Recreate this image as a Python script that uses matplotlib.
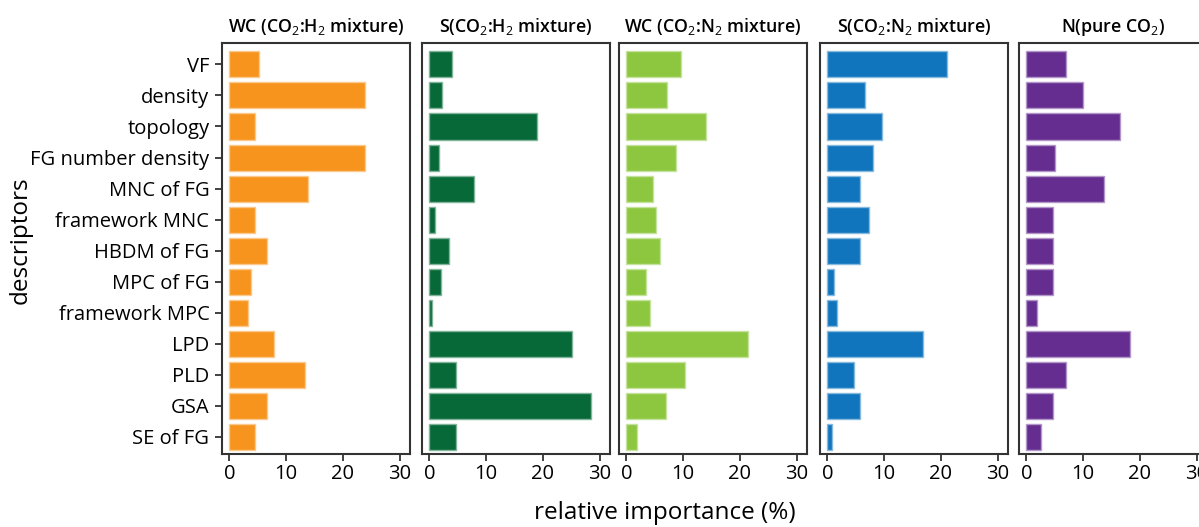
import numpy as np
import matplotlib.pyplot as plt

plt.rcParams['font.family'] = ['Open Sans', 'DejaVu Sans']
plt.rcParams['mathtext.fontset'] = 'custom'
plt.rcParams['mathtext.rm'] = 'Open Sans'
plt.rcParams['mathtext.it'] = 'Open Sans'
plt.rcParams['mathtext.bf'] = 'Open Sans:bold'

# descriptors (top to bottom)
descriptors = ["VF", "density", "topology", "FG number density", "MNC of FG",
               "framework MNC", "HBDM of FG", "MPC of FG", "framework MPC",
               "LPD", "PLD", "GSA", "SE of FG"]

# relative importance (%) per target
wc_h2 = [5.2, 23.9, 4.5, 23.9, 13.9, 4.5, 6.6, 3.8, 3.2, 7.8, 13.3, 6.6, 4.5]
s_h2 = [3.9, 2.3, 19.0, 1.7, 7.8, 1.0, 3.4, 2.1, 0.4, 25.1, 4.6, 28.5, 4.6]
wc_n2 = [9.7, 7.1, 14.1, 8.7, 4.6, 5.2, 6.0, 3.5, 4.1, 21.5, 10.3, 6.9, 1.8]
s_n2 = [21.0, 6.7, 9.6, 8.0, 5.7, 7.4, 5.7, 1.1, 1.7, 16.8, 4.6, 5.7, 0.8]
n_co2 = [6.9, 10.0, 16.5, 5.0, 13.6, 4.7, 4.7, 4.7, 1.8, 18.3, 6.9, 4.7, 2.6]

titles = ["WC (CO$_2$:H$_2$ mixture)", "S(CO$_2$:H$_2$ mixture)",
          "WC (CO$_2$:N$_2$ mixture)", "S(CO$_2$:N$_2$ mixture)",
          "N(pure CO$_2$)"]
series = [wc_h2, s_h2, wc_n2, s_n2, n_co2]
colors = ["#F7941D", "#066937", "#8DC63F", "#1075BD", "#662D91"]
edges = ["#FBC98E", "#82B49B", "#C6E29F", "#88BADE", "#B296C8"]

W, H = 1199, 527
fig = plt.figure(figsize=(W / 100, H / 100), dpi=100)
lefts = [222, 422, 619, 820, 1019]
pw = 188
top, bot = 43.3, 454

y = np.arange(len(descriptors))
for i in range(5):
    ax = fig.add_axes([lefts[i] / W, 1 - bot / H, pw / W, (bot - top) / H])
    ax.barh(y, series[i], height=0.84, color=colors[i],
            edgecolor=edges[i], linewidth=1)
    ax.set_xlim(-1.3, 31.8)
    ax.set_ylim(12.55, -0.68)
    ax.set_xticks([0, 10, 20, 30])
    ax.tick_params(axis='x', labelsize=14.5, length=5, width=1.3,
                   color="#333333", pad=2)
    for s in ax.spines.values():
        s.set_color("#333333")
        s.set_linewidth(1.5)
    ax.set_title(titles[i], fontsize=12.8, fontweight='semibold', pad=8)
    if i == 0:
        ax.set_yticks(y)
        ax.set_yticklabels(descriptors)
        ax.tick_params(axis='y', labelsize=14.5, length=5, width=1.3,
                       color="#333333", pad=4)
        ax.set_ylabel("descriptors", fontsize=17.5)
        ax.yaxis.set_label_coords(-(222 - 33) / pw, 0.52)
    else:
        ax.set_yticks([])

fig.text(665 / W, 1 - 513 / H, "relative importance (%)", fontsize=17.5,
         ha='center', va='center')

fig.savefig("out.png", dpi=100)
